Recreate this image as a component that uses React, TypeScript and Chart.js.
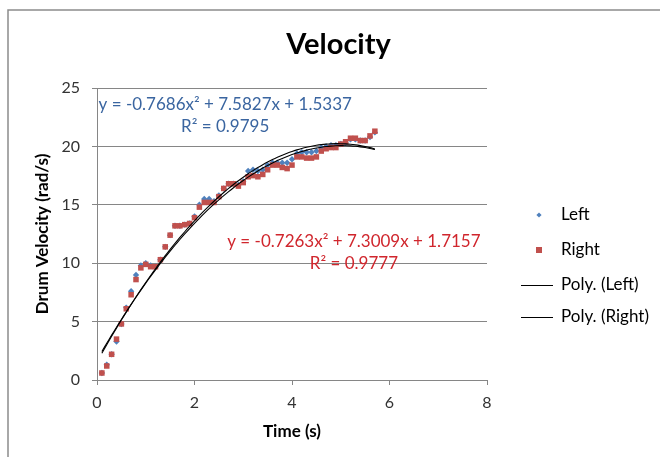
import React, { useEffect, useRef } from 'react';
import { Chart, registerables } from 'chart.js';

Chart.register(...registerables);

// ---- data ----
const timeS = [
  0.1, 0.2, 0.3, 0.4, 0.5, 0.6, 0.7, 0.8, 0.9, 1.0,
  1.1, 1.2, 1.3, 1.4, 1.5, 1.6, 1.7, 1.8, 1.9, 2.0,
  2.1, 2.2, 2.3, 2.4, 2.5, 2.6, 2.7, 2.8, 2.9, 3.0,
  3.1, 3.2, 3.3, 3.4, 3.5, 3.6, 3.7, 3.8, 3.9, 4.0,
  4.1, 4.2, 4.3, 4.4, 4.5, 4.6, 4.7, 4.8, 4.9, 5.0,
  5.1, 5.2, 5.3, 5.4, 5.5, 5.6, 5.7,
];
const leftVelocity = [
  0.6, 1.3, 2.2, 3.3, 4.8, 6.2, 7.6, 9.0, 9.8, 10.0,
  9.8, 9.7, 10.3, 11.4, 12.4, 13.2, 13.2, 13.3, 13.4, 14.0,
  15.0, 15.5, 15.5, 15.3, 15.8, 16.4, 16.8, 16.8, 16.7, 17.0,
  17.9, 18.0, 17.9, 18.0, 18.4, 18.6, 18.6, 18.6, 18.6, 18.9,
  19.4, 19.5, 19.5, 19.5, 19.6, 19.9, 20.0, 20.1, 20.1, 20.2,
  20.3, 20.6, 20.6, 20.5, 20.5, 20.8, 21.2,
];
const rightVelocity = [
  0.6, 1.2, 2.2, 3.5, 4.8, 6.1, 7.3, 8.6, 9.6, 9.9,
  9.7, 9.7, 10.3, 11.4, 12.4, 13.2, 13.2, 13.3, 13.4, 13.9,
  14.8, 15.2, 15.2, 15.2, 15.7, 16.4, 16.8, 16.8, 16.6, 16.9,
  17.4, 17.5, 17.4, 17.6, 18.0, 18.4, 18.4, 18.2, 18.1, 18.4,
  19.1, 19.1, 19.0, 19.0, 19.1, 19.6, 19.8, 19.9, 19.9, 20.2,
  20.4, 20.7, 20.7, 20.5, 20.5, 20.9, 21.3,
];
// polynomial trendline coefficients shown on the chart [a, b, c] for a x^2 + b x + c
const leftFit = [-0.7686, 7.5827, 1.5337];
const rightFit = [-0.7263, 7.3009, 1.7157];
const leftEquation = ['y = -0.7686x\u00B2 + 7.5827x + 1.5337', 'R\u00B2 = 0.9795'];
const rightEquation = ['y = -0.7263x\u00B2 + 7.3009x + 1.7157', 'R\u00B2 = 0.9777'];
// label anchors in data space: [x, line1 y, line2 y]
const leftEqAnchor = [2.63, 23.55, 21.7];
const rightEqAnchor = [5.27, 11.84, 9.99];
const seriesLabels = ['Left', 'Right', 'Poly. (Left)', 'Poly. (Right)'];
const chartTitle = 'Velocity';
const xTitle = 'Time (s)';
const yTitle = 'Drum Velocity (rad/s)';

const FONT = 'Lato, "Open Sans", sans-serif';
const BLUE = '#4F81BD';
const RED = '#C0504D';
const BLUE_TEXT = '#3A65A0';
const RED_TEXT = '#D0262D';

const poly = (c: number[]) => timeS.map((t) => ({ x: t, y: c[0] * t * t + c[1] * t + c[2] }));

const decorPlugin = {
  id: 'decor',
  beforeDraw(chart: any) {
    const { ctx, width, height } = chart;
    ctx.save();
    ctx.fillStyle = '#ffffff';
    ctx.fillRect(0, 0, width, height);
    ctx.strokeStyle = '#8c8c8c';
    ctx.lineWidth = 1.5;
    ctx.beginPath();
    ctx.moveTo(8, height + 5);
    ctx.lineTo(8, 10);
    ctx.lineTo(width + 5, 10);
    ctx.stroke();
    ctx.restore();
  },
  afterDraw(chart: any) {
    const { ctx, scales } = chart;
    const xs = scales.x;
    const ys = scales.y;
    ctx.save();
    // title
    ctx.fillStyle = '#000';
    ctx.font = `bold 29px ${FONT}`;
    ctx.textAlign = 'center';
    ctx.textBaseline = 'alphabetic';
    ctx.fillText(chartTitle, 338.5, 54);

    // trendline equations
    ctx.font = `17px ${FONT}`;
    ctx.textBaseline = 'middle';
    const eq = (lines: string[], anchor: number[], color: string) => {
      ctx.fillStyle = color;
      const x = xs.getPixelForValue(anchor[0]);
      ctx.fillText(lines[0], x, ys.getPixelForValue(anchor[1]));
      ctx.fillText(lines[1], x, ys.getPixelForValue(anchor[2]));
    };
    eq(leftEquation, leftEqAnchor, BLUE_TEXT);
    eq(rightEquation, rightEqAnchor, RED_TEXT);

    // legend
    const rows = [215, 250, 285, 317];
    ctx.textAlign = 'left';
    chart.data.datasets.forEach((ds: any, i: number) => {
      const y = rows[i];
      if (ds.showLine) {
        ctx.strokeStyle = ds.borderColor;
        ctx.lineWidth = 1;
        ctx.beginPath();
        ctx.moveTo(521, y + 0.5);
        ctx.lineTo(553, y + 0.5);
        ctx.stroke();
      } else {
        ctx.fillStyle = ds.pointBackgroundColor;
        ctx.beginPath();
        if (ds.pointStyle === 'rectRot') {
          const r = 2.6;
          ctx.moveTo(539, y - r);
          ctx.lineTo(539 + r, y);
          ctx.lineTo(539, y + r);
          ctx.lineTo(539 - r, y);
          ctx.closePath();
        } else {
          ctx.rect(536, y - 3, 6, 6);
        }
        ctx.fill();
      }
      ctx.fillStyle = '#000';
      ctx.fillText(ds.label, 561, y);
    });
    ctx.restore();
  },
};

export default function App() {
  const ref = useRef<HTMLCanvasElement | null>(null);
  useEffect(() => {
    let chart: Chart | null = null;
    let cancelled = false;
    const make = () => {
      if (cancelled || !ref.current) return;
      chart = new Chart(ref.current, {
        type: 'scatter',
        data: {
          datasets: [
            {
              label: seriesLabels[0],
              data: timeS.map((t, i) => ({ x: t, y: leftVelocity[i] })),
              pointStyle: 'rectRot',
              pointRadius: 3.2,
              pointBackgroundColor: BLUE,
              pointBorderColor: BLUE,
              pointBorderWidth: 0,
              showLine: false,
              order: 2,
            },
            {
              label: seriesLabels[1],
              data: timeS.map((t, i) => ({ x: t, y: rightVelocity[i] })),
              pointStyle: 'rect',
              pointRadius: 3.9,
              pointBackgroundColor: RED,
              pointBorderColor: RED,
              pointBorderWidth: 0,
              showLine: false,
              order: 1,
            },
            {
              label: seriesLabels[2],
              data: poly(leftFit),
              showLine: true,
              borderColor: '#000000',
              borderWidth: 1.1,
              pointRadius: 0,
              tension: 0.3,
              order: 0,
            },
            {
              label: seriesLabels[3],
              data: poly(rightFit),
              showLine: true,
              borderColor: '#000000',
              borderWidth: 1.1,
              pointRadius: 0,
              tension: 0.3,
              order: 0,
            },
          ],
        } as any,
        options: {
          animation: false,
          responsive: false,
          events: [],
          layout: { padding: { left: 0, top: 88, right: 173, bottom: 0 } },
          plugins: {
            legend: { display: false },
            title: { display: false },
            tooltip: { enabled: false },
          },
          scales: {
            x: {
              type: 'linear',
              min: 0,
              max: 8,
              ticks: {
                stepSize: 2,
                padding: 8,
                color: '#333',
                font: { family: FONT, size: 16 },
              },
              grid: { drawOnChartArea: false, drawTicks: true, tickLength: 5, color: '#868686' },
              border: { display: true, color: '#868686' },
              title: {
                display: true,
                text: xTitle,
                color: '#000',
                font: { family: FONT, size: 17, weight: 'bold' },
                padding: { top: 0, bottom: 15 },
              },
              afterFit: (s: any) => { s.height = 77; },
            },
            y: {
              type: 'linear',
              min: 0,
              max: 25,
              ticks: {
                stepSize: 5,
                padding: 12,
                color: '#333',
                font: { family: FONT, size: 16 },
              },
              grid: { color: '#868686', drawTicks: true, tickLength: 5 },
              border: { display: true, color: '#868686' },
              title: {
                display: true,
                text: yTitle,
                color: '#000',
                font: { family: FONT, size: 17, weight: 'bold' },
                padding: { top: 32, bottom: 0 },
              },
              afterFit: (s: any) => { s.width = 97; },
            },
          },
        } as any,
        plugins: [decorPlugin],
      });
    };
    const fonts = (document as any).fonts;
    if (fonts && fonts.load) {
      Promise.all([fonts.load(`17px Lato`), fonts.load(`bold 29px Lato`)]).then(make, make);
    } else {
      make();
    }
    return () => {
      cancelled = true;
      if (chart) chart.destroy();
    };
  }, []);
  return (
    <canvas
      ref={ref}
      width={660}
      height={457}
      style={{ position: 'absolute', left: 0, top: 0, width: 660, height: 457 }}
    />
  );
}
